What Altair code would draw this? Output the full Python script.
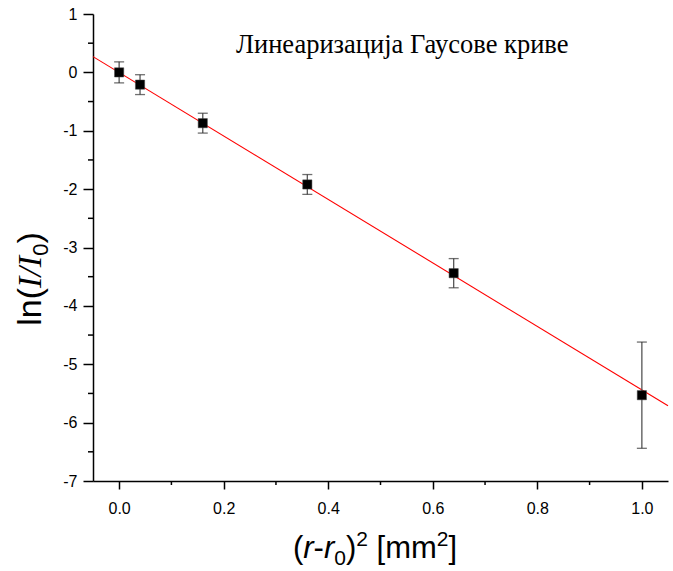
import altair as alt
import pandas as pd

# measured data
x_vals = [0.0, 0.04, 0.16, 0.36, 0.64, 1.0]
y_vals = [0.0, -0.21, -0.87, -1.92, -3.44, -5.53]
y_err = [0.18, 0.17, 0.17, 0.17, 0.25, 0.91]

# linear fit line end points
fit_x = [-0.05, 1.05]
fit_y = [0.27, -5.71]

# axis ticks
x_major = [0.0, 0.2, 0.4, 0.6, 0.8, 1.0]
x_minor = [0.1, 0.3, 0.5, 0.7, 0.9]
y_major = [1, 0, -1, -2, -3, -4, -5, -6, -7]
y_minor = [0.5, -0.5, -1.5, -2.5, -3.5, -4.5, -5.5, -6.5]

title_text = ["Линеаризација Гаусове криве"]

# axis title pieces: (text, family, style, size, em-width, shift)
x_title_parts = [
    ("(", "Liberation Sans", "normal", 31, 0.333, 0),
    ("r", "Liberation Sans", "italic", 31, 0.333, 0),
    ("-", "Liberation Sans", "normal", 31, 0.333, 0),
    ("r", "Liberation Sans", "italic", 31, 0.333, 0),
    ("0", "Liberation Sans", "normal", 21, 0.556, 7),
    (")", "Liberation Sans", "normal", 31, 0.333, 0),
    ("2", "Liberation Sans", "normal", 21, 0.556, -12),
    ("", "Liberation Sans", "normal", 31, 0.278, 0),
    ("[mm", "Liberation Sans", "normal", 31, 1.944, 0),
    ("2", "Liberation Sans", "normal", 21, 0.556, -12),
    ("]", "Liberation Sans", "normal", 31, 0.278, 0),
]
y_title_parts = [
    ("ln(", "Liberation Sans", "normal", 34, 1.111, 0),
    ("I/I", "Liberation Serif", "italic", 34, 0.944, 0),
    ("0", "Liberation Sans", "normal", 22, 0.556, 7),
    (")", "Liberation Sans", "normal", 34, 0.333, 0),
]

W, H = 575, 467

df = pd.DataFrame({"x": x_vals, "y": y_vals, "err": y_err})
df["lo"] = df["y"] - df["err"]
df["hi"] = df["y"] + df["err"]
fit_df = pd.DataFrame({"x": fit_x, "y": fit_y})
xm_df = pd.DataFrame({"x": x_minor})
ym_df = pd.DataFrame({"y": y_minor})
t_df = pd.DataFrame({"t": title_text})

xs = alt.Scale(domain=[-0.05, 1.05], nice=False, zero=False)
ys = alt.Scale(domain=[-7, 1], nice=False, zero=False)

x_axis = alt.Axis(values=x_major, format=".1f", tickSize=8, tickWidth=1.5,
                  domainWidth=1.5, labelPadding=11, labelFontSize=16, title="")
y_axis = alt.Axis(values=y_major, tickSize=10, tickWidth=1.5,
                  labelExpr="toString(datum.value)",
                  domainWidth=1.5, labelPadding=6, labelFontSize=16, title="")

fit = alt.Chart(fit_df).mark_line(color="#ff0000", strokeWidth=1.1).encode(
    x=alt.X("x:Q", scale=xs, axis=x_axis),
    y=alt.Y("y:Q", scale=ys, axis=y_axis),
)

bars = alt.Chart(df).mark_rule(color="#555555", strokeWidth=1.3).encode(
    x=alt.X("x:Q", scale=xs), y=alt.Y("lo:Q", scale=ys), y2="hi:Q"
)
cap_lo = alt.Chart(df).mark_tick(orient="horizontal", size=10, thickness=1.3,
                                 color="#333333").encode(
    x=alt.X("x:Q", scale=xs), y=alt.Y("lo:Q", scale=ys)
)
cap_hi = alt.Chart(df).mark_tick(orient="horizontal", size=10, thickness=1.3,
                                 color="#333333").encode(
    x=alt.X("x:Q", scale=xs), y=alt.Y("hi:Q", scale=ys)
)
pts = alt.Chart(df).mark_square(size=85, color="black", opacity=1,
                                stroke="#444444", strokeWidth=0.5).encode(
    x=alt.X("x:Q", scale=xs), y=alt.Y("y:Q", scale=ys)
)

xminor = alt.Chart(xm_df).mark_rule(color="black", strokeWidth=1.5).encode(
    x=alt.X("x:Q", scale=xs), y=alt.value(H), y2=alt.value(H + 4)
)
yminor = alt.Chart(ym_df).mark_rule(color="black", strokeWidth=1.5).encode(
    y=alt.Y("y:Q", scale=ys), x=alt.value(0), x2=alt.value(-5)
)

title = alt.Chart(t_df).mark_text(font="Liberation Serif", fontSize=26.5,
                                  align="left", baseline="alphabetic",
                                  color="black").encode(
    x=alt.value(143), y=alt.value(39), text="t:N"
)


def text_piece(txt, fam, style, size, px, py, angle=0):
    d = pd.DataFrame({"t": [txt]})
    return alt.Chart(d).mark_text(font=fam, fontStyle=style, fontSize=size,
                                  align="left", baseline="alphabetic",
                                  angle=angle, color="black").encode(
        x=alt.value(px), y=alt.value(py), text="t:N"
    )


# x axis title, centred under the plot
x_total = sum(p[3] * p[4] for p in x_title_parts)
cx = 282 - x_total / 2
base_y = 544
x_layers = []
for txt, fam, st, sz, em, sh in x_title_parts:
    if txt:
        x_layers.append(text_piece(txt, fam, st, sz, cx, base_y + sh))
    cx += sz * em

# y axis title, rotated, reading bottom to top
y_total = sum(p[3] * p[4] for p in y_title_parts)
cy = 265 + y_total / 2
base_x = -52
y_layers = []
for txt, fam, st, sz, em, sh in y_title_parts:
    y_layers.append(text_piece(txt, fam, st, sz, base_x + sh, cy, angle=270))
    cy -= sz * em

chart = alt.layer(fit, xminor, yminor, bars, cap_lo, cap_hi, pts, title,
                  *x_layers, *y_layers).properties(
    width=W, height=H,
    autosize=alt.AutoSizeParams(type="none"),
    padding={"left": 93, "top": 14, "right": 5, "bottom": 90},
).configure_view(stroke=None).configure_axis(
    labelFont="Liberation Sans", labelColor="black", tickColor="black",
    domainColor="black", grid=False,
)

chart.save("out.html", embed_options={"renderer": "svg", "actions": False})
